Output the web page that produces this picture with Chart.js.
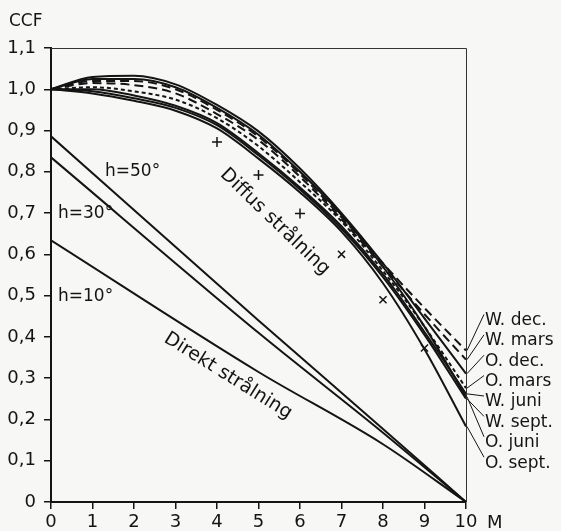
<!DOCTYPE html>
<html>
<head>
<meta charset="utf-8">
<script src="https://cdn.jsdelivr.net/npm/chart.js@4.4.0/dist/chart.umd.min.js"></script>
<style>
html, body { margin: 0; padding: 0; background: #f7f7f5; }
canvas { display: block; }
</style>
</head>
<body>
<canvas id="ccfChart" width="561" height="531"></canvas>
<script>
// distance M, 0..10
const xSteps = [0, 1, 2, 3, 4, 5, 6, 7, 8, 9, 10];

// diffuse radiation curves (CCF)
const wDec  = [1.0, 1.020, 1.020, 1.000, 0.950, 0.885, 0.795, 0.690, 0.578, 0.470, 0.367];
const wMars = [1.0, 1.015, 1.010, 0.990, 0.940, 0.877, 0.788, 0.685, 0.570, 0.455, 0.345];
const oDec  = [1.0, 1.030, 1.033, 1.012, 0.962, 0.898, 0.808, 0.700, 0.578, 0.445, 0.311];
const oMars = [1.0, 1.005, 0.995, 0.975, 0.930, 0.862, 0.775, 0.680, 0.560, 0.425, 0.276];
const wJuni = [1.0, 1.000, 0.985, 0.960, 0.918, 0.845, 0.762, 0.668, 0.552, 0.412, 0.262];
const wSept = [1.0, 0.995, 0.978, 0.955, 0.913, 0.840, 0.757, 0.662, 0.545, 0.405, 0.250];
const oJuni = [1.0, 1.025, 1.025, 1.005, 0.955, 0.890, 0.800, 0.695, 0.570, 0.425, 0.255];
const oSept = [1.0, 0.990, 0.972, 0.948, 0.905, 0.832, 0.750, 0.655, 0.530, 0.370, 0.183];
const curveNames = ['W. dec.', 'W. mars', 'O. dec.', 'O. mars', 'W. juni', 'W. sept.', 'O. juni', 'O. sept.'];

// direct radiation, sun height h
const directX = [0, 5, 8, 10];
const h50 = [0.886, 0.440, 0.177, 0];
const h30 = [0.835, 0.410, 0.168, 0];
const h10 = [0.634, 0.315, 0.140, 0];

// measured points
const crossX = [4, 5, 6, 7, 8, 9];
const crossY = [0.872, 0.792, 0.699, 0.600, 0.490, 0.373];

const xTicks = [0, 1, 2, 3, 4, 5, 6, 7, 8, 9, 10];
const yTicks = [0, 0.1, 0.2, 0.3, 0.4, 0.5, 0.6, 0.7, 0.8, 0.9, 1.0, 1.1];

const FONT = '"DejaVu Sans", sans-serif';
const INK = '#141414';

const curves = [wDec, wMars, oDec, oMars, wJuni, wSept, oJuni, oSept];
const dashes = { 'W. dec.': [9, 5], 'W. mars': [9, 5], 'O. mars': [4, 3] };

const toPts = (xs, ys) => xs.map((x, i) => ({ x: x, y: ys[i] }));

const datasets = curves.map((vals, i) => ({
    label: curveNames[i],
    data: toPts(xSteps, vals),
    borderColor: INK,
    borderWidth: 2,
    borderDash: dashes[curveNames[i]] || [],
    cubicInterpolationMode: 'monotone',
    pointRadius: 0,
    showLine: true
}));

[h50, h30, h10].forEach((vals, i) => {
    datasets.push({
        label: ['h=50°', 'h=30°', 'h=10°'][i],
        data: toPts(directX, vals),
        borderColor: INK,
        borderWidth: 2,
        cubicInterpolationMode: 'monotone',
        pointRadius: 0,
        showLine: true
    });
});

datasets.push({
    label: 'mätpunkter',
    data: toPts(crossX, crossY),
    showLine: false,
    pointStyle: ['cross', 'cross', 'cross', 'crossRot', 'crossRot', 'crossRot'],
    pointRadius: 5,
    borderColor: INK,
    borderWidth: 1.5
});

const fmt = v => v === 0 ? '0' : (Math.round(v * 10) / 10).toFixed(1).replace('.', ',');

const textPlugin = {
    id: 'ccfText',
    afterDraw(chart) {
        const ctx = chart.ctx;
        const ys = chart.scales.y;
        const area = chart.chartArea;
        ctx.save();

        // thin frame top and right
        ctx.strokeStyle = '#333';
        ctx.lineWidth = 1;
        ctx.beginPath();
        ctx.moveTo(area.left, area.top + 0.5);
        ctx.lineTo(area.right + 0.5, area.top + 0.5);
        ctx.lineTo(area.right + 0.5, area.bottom);
        ctx.stroke();

        ctx.fillStyle = INK;
        ctx.font = '17px ' + FONT;
        ctx.textBaseline = 'middle';
        ctx.textAlign = 'left';
        ctx.fillText('CCF', 9, 22);
        ctx.font = '18px ' + FONT;
        ctx.fillText('M', 487, 523);

        // h labels
        ctx.font = '17px ' + FONT;
        ctx.fillText('h=50°', 105, 172);
        ctx.fillText('h=30°', 58, 214);
        ctx.fillText('h=10°', 58, 297);

        // rotated annotations
        const rot = (txt, cx, cy, deg) => {
            ctx.save();
            ctx.translate(cx, cy);
            ctx.rotate(deg * Math.PI / 180);
            ctx.textAlign = 'center';
            ctx.fillText(txt, 0, 0);
            ctx.restore();
        };
        ctx.font = '19px ' + FONT;
        rot('Diffus strålning', 275, 222, 44);
        rot('Direkt strålning', 228, 376, 32);

        // series labels with leaders
        ctx.font = '17px ' + FONT;
        ctx.lineWidth = 1;
        ctx.strokeStyle = INK;
        const topY = ys.getPixelForValue(0.44);
        curveNames.forEach((name, i) => {
            const ly = topY + i * 20.4;
            const endY = ys.getPixelForValue(curves[i][curves[i].length - 1]);
            ctx.beginPath();
            ctx.moveTo(area.right + 1, endY);
            ctx.lineTo(484, ly - 6);
            ctx.stroke();
            ctx.fillText(name, 485, ly);
        });
        ctx.restore();
    }
};

new Chart(document.getElementById('ccfChart'), {
    type: 'scatter',
    data: { datasets: datasets },
    options: {
        responsive: false,
        animation: false,
        layout: { padding: { top: 48, right: 95, left: 0, bottom: 0 } },
        plugins: { legend: { display: false }, tooltip: { enabled: false } },
        scales: {
            x: {
                type: 'linear',
                min: 0,
                max: 10,
                afterBuildTicks: s => { s.ticks = xTicks.map(v => ({ value: v })); },
                afterFit: s => { s.height = 29; },
                grid: { drawOnChartArea: false, tickLength: 7, color: INK, lineWidth: 1.5 },
                border: { color: INK, width: 2 },
                ticks: { color: INK, font: { size: 18, family: FONT }, padding: 3, maxRotation: 0 }
            },
            y: {
                min: 0,
                max: 1.1,
                afterBuildTicks: s => { s.ticks = yTicks.map(v => ({ value: v })); },
                afterFit: s => { s.width = 51; },
                grid: { drawOnChartArea: false, tickLength: 7, color: INK, lineWidth: 1.5 },
                border: { color: INK, width: 2 },
                ticks: { color: INK, font: { size: 18, family: FONT }, padding: 8, callback: v => fmt(v) }
            }
        }
    },
    plugins: [textPlugin]
});
</script>
</body>
</html>
